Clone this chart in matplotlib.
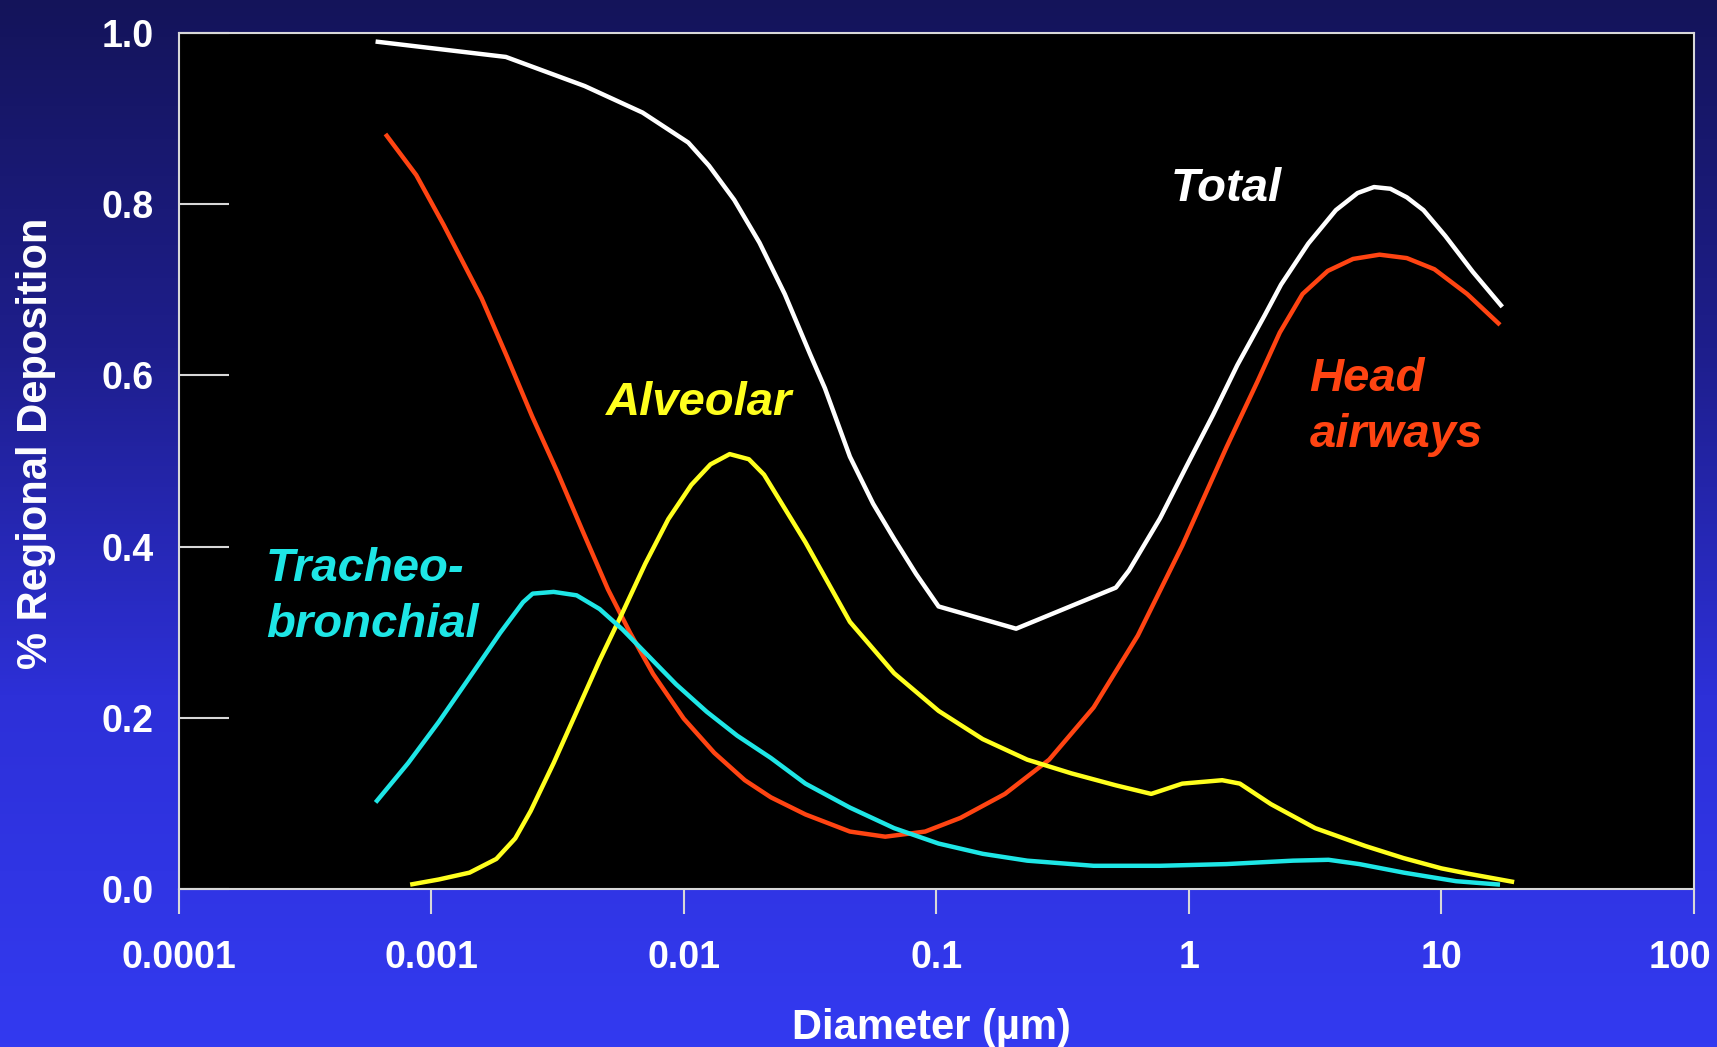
import numpy as np
import matplotlib
matplotlib.use("Agg")
import matplotlib.pyplot as plt
import matplotlib.transforms as mtransforms
from matplotlib.colors import LinearSegmentedColormap
from matplotlib.ticker import FixedLocator, NullLocator

# ============================================================
# Data
# x values are log10(diameter in µm), y is deposition fraction
# ============================================================
total_logd = [-3.220, -2.704, -2.392, -2.163, -1.982, -1.900, -1.800, -1.700,
              -1.600, -1.500, -1.441, -1.342, -1.250, -1.167, -1.080, -0.991,
              -0.684, -0.289, -0.237, -0.114, -0.009, 0.096, 0.192, 0.300,
              0.365, 0.473, 0.582, 0.668, 0.733, 0.798, 0.863, 0.929, 1.015,
              1.124, 1.241]
total_y = [0.990, 0.972, 0.938, 0.907, 0.872, 0.845, 0.805, 0.755,
           0.695, 0.625, 0.585, 0.505, 0.450, 0.409, 0.368, 0.330,
           0.304, 0.352, 0.372, 0.433, 0.494, 0.554, 0.612, 0.670,
           0.706, 0.754, 0.793, 0.813, 0.820, 0.818, 0.808, 0.793, 0.763,
           0.721, 0.680]

head_logd = [-3.181, -3.059, -2.951, -2.800, -2.700, -2.600, -2.500, -2.400,
             -2.300, -2.212, -2.121, -2.000, -1.879, -1.758, -1.655, -1.518,
             -1.342, -1.202, -1.044, -0.904, -0.728, -0.553, -0.377, -0.202,
             -0.026, 0.149, 0.272, 0.360, 0.450, 0.550, 0.650, 0.755, 0.863,
             0.972, 1.102, 1.232]
head_y = [0.882, 0.834, 0.776, 0.690, 0.622, 0.552, 0.487, 0.418,
          0.350, 0.299, 0.251, 0.199, 0.159, 0.127, 0.107, 0.087,
          0.067, 0.061, 0.067, 0.083, 0.111, 0.151, 0.212, 0.296,
          0.401, 0.516, 0.593, 0.650, 0.695, 0.722, 0.736, 0.741, 0.737,
          0.724, 0.695, 0.659]

alv_logd = [-3.083, -2.970, -2.848, -2.742, -2.667, -2.606, -2.515, -2.424,
            -2.333, -2.242, -2.152, -2.061, -1.970, -1.894, -1.818, -1.742,
            -1.682, -1.518, -1.342, -1.167, -0.991, -0.816, -0.640, -0.465,
            -0.289, -0.149, -0.026, 0.132, 0.202, 0.325, 0.500, 0.700, 0.850,
            1.000, 1.102, 1.288]
alv_y = [0.005, 0.011, 0.019, 0.035, 0.059, 0.091, 0.147, 0.207,
         0.267, 0.323, 0.380, 0.432, 0.472, 0.496, 0.508, 0.502,
         0.484, 0.405, 0.312, 0.252, 0.208, 0.175, 0.151, 0.135,
         0.121, 0.111, 0.123, 0.127, 0.123, 0.099, 0.071, 0.050, 0.036,
         0.024, 0.018, 0.008]

tb_logd = [-3.220, -3.091, -2.970, -2.848, -2.727, -2.636, -2.598, -2.515,
           -2.424, -2.333, -2.242, -2.136, -2.030, -1.909, -1.788, -1.655,
           -1.518, -1.342, -1.167, -0.991, -0.816, -0.640, -0.377, -0.114,
           0.149, 0.412, 0.553, 0.675, 0.851, 1.058, 1.232]
tb_y = [0.101, 0.147, 0.195, 0.247, 0.299, 0.335, 0.345, 0.347,
        0.343, 0.327, 0.303, 0.271, 0.239, 0.207, 0.179, 0.153,
        0.123, 0.095, 0.071, 0.053, 0.041, 0.033, 0.027, 0.027,
        0.029, 0.033, 0.034, 0.029, 0.019, 0.009, 0.005]

x_ticks = [0.0001, 0.001, 0.01, 0.1, 1, 10, 100]
x_tick_labels = ["0.0001", "0.001", "0.01", "0.1", "1", "10", "100"]
y_ticks = [0.0, 0.2, 0.4, 0.6, 0.8, 1.0]
y_tick_labels = ["0.0", "0.2", "0.4", "0.6", "0.8", "1.0"]

# ============================================================
# Style
# ============================================================
plt.rcParams["font.family"] = ["Liberation Sans", "DejaVu Sans"]
plt.rcParams["font.weight"] = "bold"

WHITE = "#ffffff"
RED = "#ff4412"
YELLOW = "#ffff1e"
CYAN = "#1ee6e6"
SPINE = "#d8d8d8"

fig = plt.figure(figsize=(17.17, 10.47), dpi=100)

# gradient background (dark navy at top -> bright blue at bottom)
bg = fig.add_axes([0, 0, 1, 1], zorder=-10)
cmap = LinearSegmentedColormap.from_list(
    "bg", ["#333af0", "#2d30d8", "#1e1e8c", "#14145a"])
grad = np.linspace(0, 1, 256).reshape(-1, 1)
bg.imshow(grad, aspect="auto", cmap=cmap, origin="lower",
          extent=[0, 1, 0, 1])
bg.set_axis_off()

ax = fig.add_axes([0.104, 0.151, 0.8826, 0.8175])
ax.set_facecolor("black")

series = [
    (total_logd, total_y, WHITE),
    (head_logd, head_y, RED),
    (alv_logd, alv_y, YELLOW),
    (tb_logd, tb_y, CYAN),
]
for logd, y, c in series:
    ax.plot(10 ** np.array(logd), y, color=c, lw=3.2,
            solid_capstyle="butt", solid_joinstyle="round")

ax.set_xscale("log")
ax.set_xlim(0.0001, 100)
ax.set_ylim(0, 1.0)

ax.xaxis.set_major_locator(FixedLocator(x_ticks))
ax.xaxis.set_minor_locator(NullLocator())
ax.set_xticklabels(x_tick_labels)
ax.set_yticks(y_ticks)
ax.set_yticklabels(y_tick_labels)

ax.tick_params(axis="x", direction="out", length=18, width=1.5, color=SPINE,
               labelsize=27, labelcolor=WHITE, pad=19)
ax.tick_params(axis="y", direction="in", length=36, width=1.5, color=SPINE,
               labelsize=27, labelcolor=WHITE, pad=18)
for lab in ax.get_xticklabels() + ax.get_yticklabels():
    lab.set_fontweight("bold")

# the last x label sits a little left of its tick so it stays on the page
last = ax.get_xticklabels()[-1]
last.set_transform(last.get_transform() +
                   mtransforms.ScaledTranslation(-10 / 72, 0, fig.dpi_scale_trans))

for sp in ax.spines.values():
    sp.set_color(SPINE)
    sp.set_linewidth(1.5)

ax.set_xlabel("Diameter (µm)", color=WHITE, fontsize=30, fontweight="bold")
ax.xaxis.set_label_coords(0.497, -0.162)
ax.xaxis.label.set_va("center")
ax.set_ylabel("% Regional Deposition", color=WHITE, fontsize=30,
              fontweight="bold")
ax.yaxis.set_label_coords(-0.094, 0.521)
ax.yaxis.label.set_va("center")

# curve labels
lab_kw = dict(fontsize=34, fontweight="bold", fontstyle="italic")
ax.text(1.41, 0.818, "Total", color=WHITE, ha="center", va="center", **lab_kw)
ax.text(0.01156, 0.568, "Alveolar", color=YELLOW, ha="center", va="center", **lab_kw)
ax.text(3.0, 0.563, "Head\nairways", color=RED, ha="left", va="center",
        linespacing=1.36, **lab_kw)
ax.text(0.000222, 0.341, "Tracheo-\nbronchial", color=CYAN, ha="left", va="center",
        linespacing=1.36, **lab_kw)

fig.savefig("out.png", dpi=100, facecolor=fig.get_facecolor())
